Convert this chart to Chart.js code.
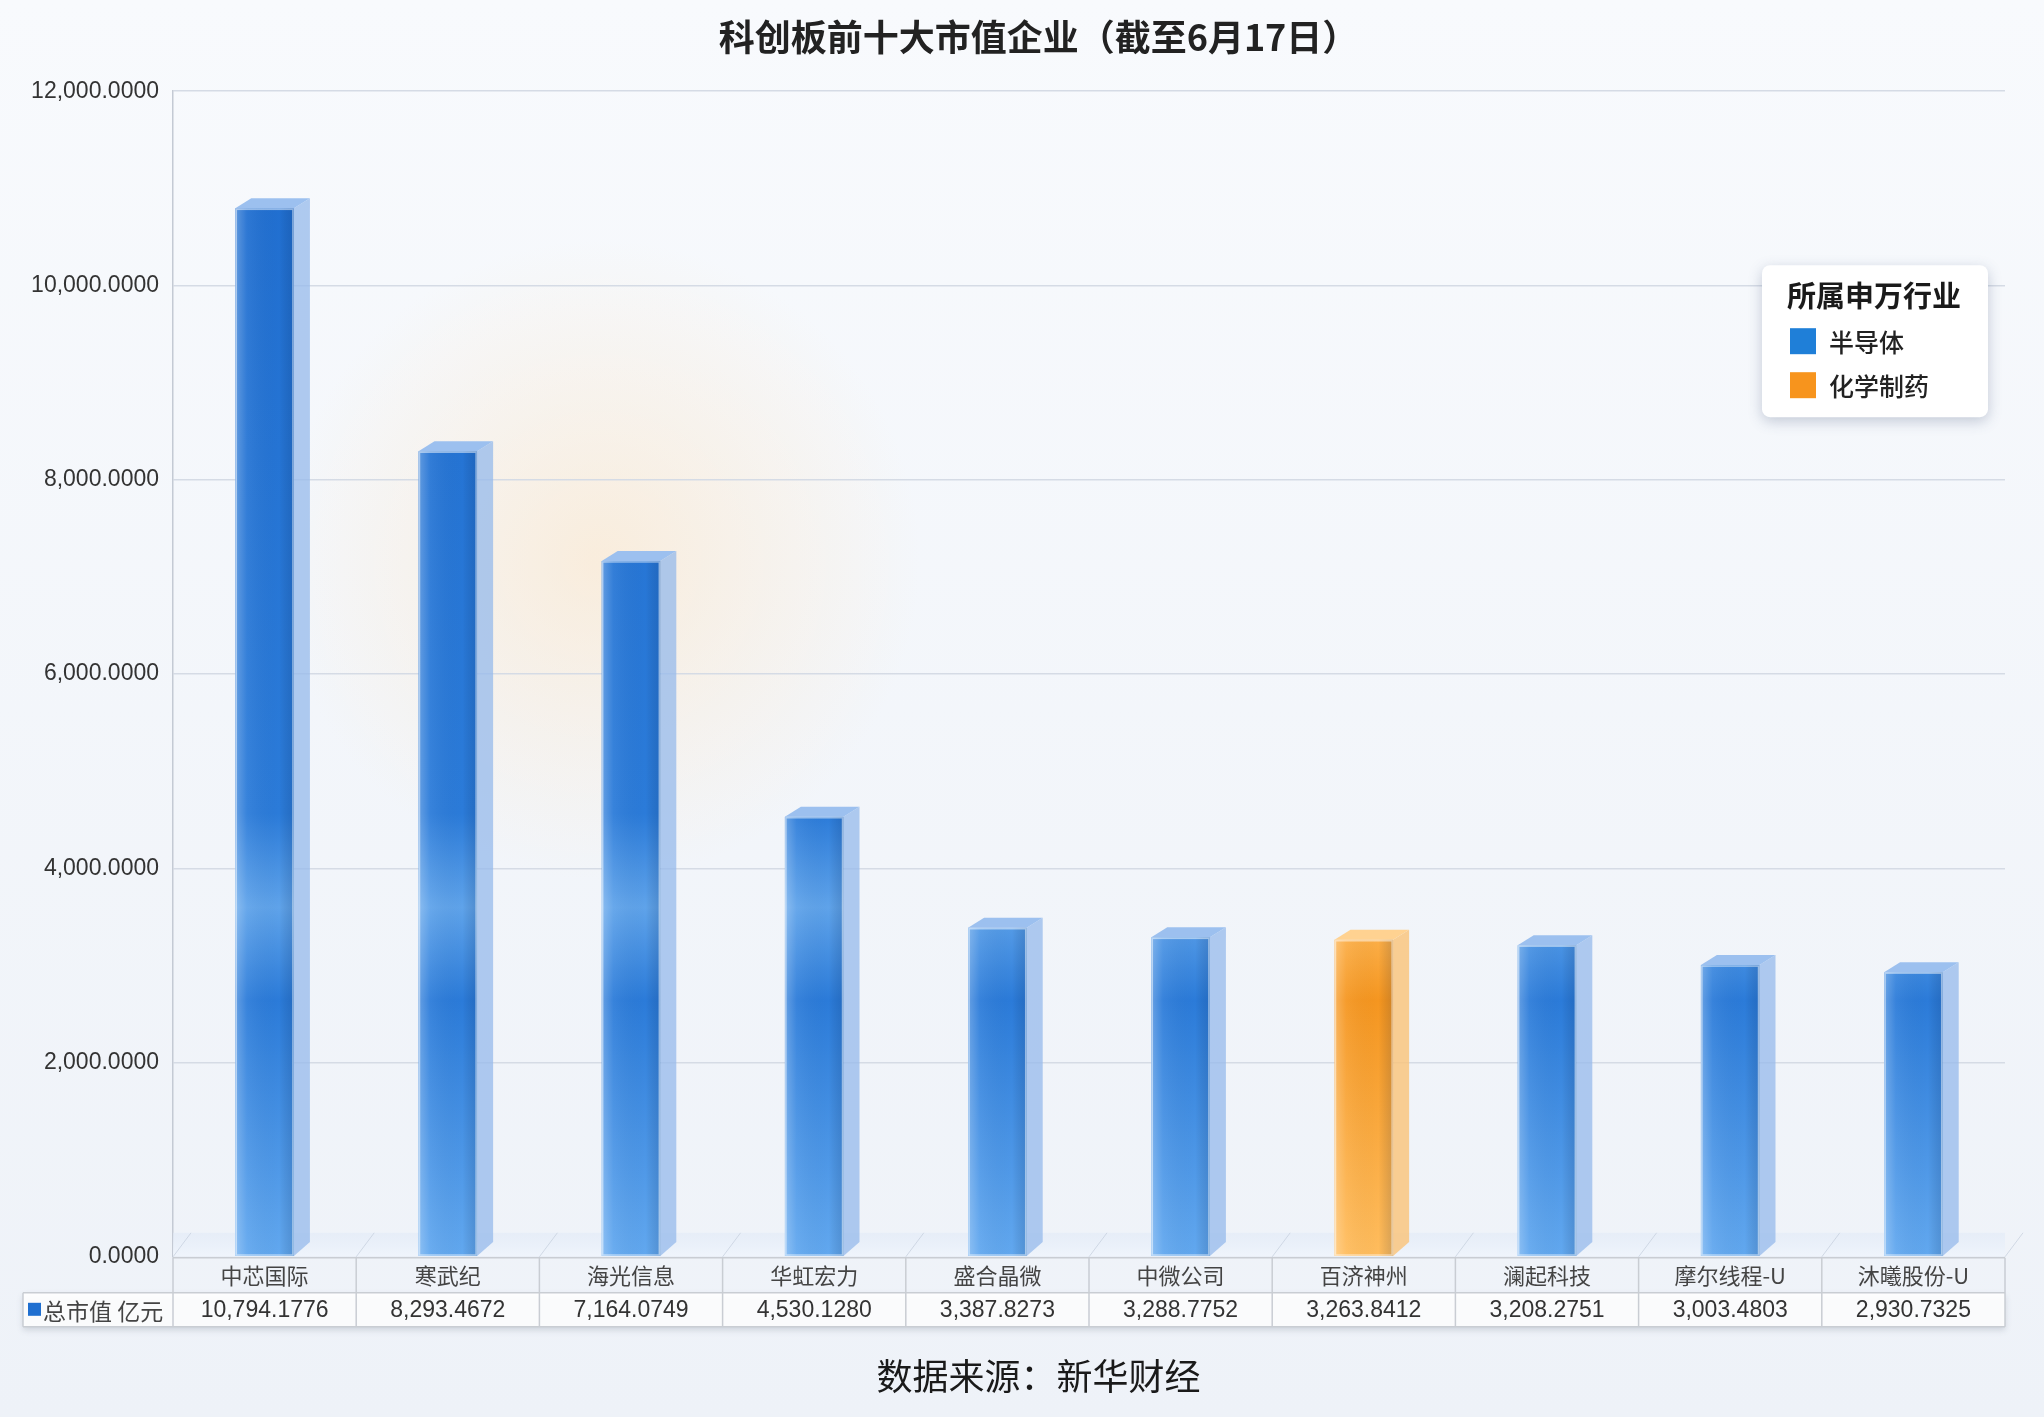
<!DOCTYPE html>
<html>
<head>
<meta charset="utf-8">
<script src="https://cdn.jsdelivr.net/npm/chart.js@4.4.1/dist/chart.umd.min.js"></script>
<style>
  html, body { margin: 0; padding: 0; background: #f5f8fc; }
  #wrap { width: 2044px; height: 1417px; }
</style>
</head>
<body>
<div id="wrap"><canvas id="grafico" width="2044" height="1417"></canvas></div>
<script>
const empresas = ["中芯国际", "寒武纪", "海光信息", "华虹宏力", "盛合晶微", "中微公司", "百济神州", "澜起科技", "摩尔线程-U", "沐曦股份-U"];
const totalMercado = [10794.1776, 8293.4672, 7164.0749, 4530.1280, 3387.8273, 3288.7752, 3263.8412, 3208.2751, 3003.4803, 2930.7325];
const setores = ["半导体", "半导体", "半导体", "半导体", "半导体", "半导体", "化学制药", "半导体", "半导体", "半导体"];
const nomesSetores = ["半导体", "化学制药"];
const eixoMax = 12000;
const eixoPasso = 2000;

const titulo = "\u3000\u3000科创板前十大市值企业（截至6月17日）";
const fonte = "\u3000\u3000数据来源：新华财经";
const tituloLegenda = "所属申万行业";
const rotuloSerie = "总市值 亿元";

const cjk = "'Noto Sans CJK SC', 'Noto Sans', sans-serif";
const num = "'Liberation Sans', Arial, sans-serif";

const cores = {
  "半导体": { topo: "#1f6dcf", meio: "#2b7bd9", faixa: "#5fa3ea", base: "#62a8ef", lado: "rgba(150,185,235,0.75)", tampa: "#9cc0ef", legenda: "#1f7fd8" },
  "化学制药": { topo: "#f1870e", meio: "#f59620", faixa: "#ffbb5c", base: "#ffbd5e", lado: "rgba(250,195,120,0.8)", tampa: "#ffd291", legenda: "#f7941d" }
};

function fmt(v) {
  return v.toLocaleString("en-US", { minimumFractionDigits: 4, maximumFractionDigits: 4 });
}

const fundo = {
  id: "fundo",
  beforeDraw(chart) {
    const { ctx, width, height, chartArea } = chart;
    ctx.save();
    let g = ctx.createLinearGradient(0, 0, 0, height);
    g.addColorStop(0, "#f8fafd");
    g.addColorStop(1, "#eef2f8");
    ctx.fillStyle = g;
    ctx.fillRect(0, 0, width, height);
    // brilho quente suave
    let r = ctx.createRadialGradient(600, 560, 10, 600, 560, 320);
    r.addColorStop(0, "rgba(255,225,185,0.45)");
    r.addColorStop(1, "rgba(255,225,185,0)");
    ctx.fillStyle = r;
    ctx.fillRect(chartArea.left, chartArea.top, chartArea.right - chartArea.left, chartArea.bottom - chartArea.top);
    ctx.restore();
  },
  beforeDatasetsDraw(chart) {
    // piso
    const { ctx, chartArea } = chart;
    const x = chart.scales.x;
    const n = empresas.length;
    const col = (x.right - x.left) / n;
    ctx.save();
    let g = ctx.createLinearGradient(0, chartArea.bottom - 24, 0, chartArea.bottom);
    g.addColorStop(0, "rgba(225,234,247,0.6)");
    g.addColorStop(1, "rgba(240,245,252,0.95)");
    ctx.fillStyle = g;
    ctx.fillRect(chartArea.left, chartArea.bottom - 24, chartArea.right - chartArea.left, 24);
    ctx.strokeStyle = "rgba(195,205,220,0.7)";
    ctx.lineWidth = 1;
    for (let i = 0; i <= n; i++) {
      const px = x.left + i * col;
      ctx.beginPath();
      ctx.moveTo(px + 18, chartArea.bottom - 24);
      ctx.lineTo(px, chartArea.bottom);
      ctx.stroke();
    }
    ctx.restore();
  }
};

const barra3d = {
  id: "barra3d",
  afterDatasetsDraw(chart) {
    const { ctx } = chart;
    const meta = chart.getDatasetMeta(0);
    const d = 16, dy = 10;
    meta.data.forEach((el, i) => {
      const { x, y, base, width } = el.getProps(["x", "y", "base", "width"], true);
      const l = x - width / 2, rt = x + width / 2;
      const c = cores[setores[i]];
      ctx.save();
      // lado
      ctx.fillStyle = c.lado;
      ctx.beginPath();
      ctx.moveTo(rt, y);
      ctx.lineTo(rt + d, y - dy);
      ctx.lineTo(rt + d, base - dy - 4);
      ctx.lineTo(rt, base);
      ctx.closePath();
      ctx.fill();
      // tampa
      ctx.fillStyle = c.tampa;
      ctx.beginPath();
      ctx.moveTo(l, y);
      ctx.lineTo(l + d, y - dy);
      ctx.lineTo(rt + d, y - dy);
      ctx.lineTo(rt, y);
      ctx.closePath();
      ctx.fill();
      // brilho na face
      let h = ctx.createLinearGradient(l, 0, rt, 0);
      h.addColorStop(0, "rgba(255,255,255,0.28)");
      h.addColorStop(0.2, "rgba(255,255,255,0.06)");
      h.addColorStop(0.75, "rgba(0,0,0,0)");
      h.addColorStop(1, "rgba(0,30,80,0.16)");
      ctx.fillStyle = h;
      ctx.fillRect(l, y, width, base - y);
      ctx.strokeStyle = "rgba(255,255,255,0.5)";
      ctx.lineWidth = 1.5;
      ctx.strokeRect(l + 1, y + 1, width - 2, base - y - 2);
      ctx.restore();
    });
  }
};

const tabela = {
  id: "tabela",
  afterDraw(chart) {
    const { ctx, chartArea } = chart;
    const x = chart.scales.x;
    const n = empresas.length;
    const col = (x.right - x.left) / n;
    const y0 = chartArea.bottom + 1, y1 = y0 + 35, y2 = y1 + 34;
    const esq = 23;
    ctx.save();
    ctx.shadowColor = "rgba(90,100,120,0.25)";
    ctx.shadowBlur = 6;
    ctx.shadowOffsetY = 3;
    ctx.fillStyle = "rgba(255,255,255,0.9)";
    ctx.fillRect(esq, y1, x.right - esq, y2 - y1);
    ctx.restore();
    ctx.save();
    ctx.strokeStyle = "#c9cdd3";
    ctx.lineWidth = 1.5;
    ctx.beginPath();
    ctx.moveTo(x.left, y0); ctx.lineTo(x.right, y0);
    ctx.moveTo(esq, y1); ctx.lineTo(x.right, y1);
    ctx.moveTo(esq, y2); ctx.lineTo(x.right, y2);
    ctx.moveTo(esq, y1); ctx.lineTo(esq, y2);
    for (let i = 0; i <= n; i++) {
      const px = x.left + i * col;
      ctx.moveTo(px, y0); ctx.lineTo(px, y2);
    }
    ctx.stroke();
    ctx.fillStyle = "#333";
    ctx.font = "23px " + num;
    ctx.textAlign = "center";
    ctx.textBaseline = "middle";
    totalMercado.forEach((v, i) => {
      ctx.fillText(fmt(v), x.getPixelForValue(i), (y1 + y2) / 2 + 1);
    });
    ctx.fillStyle = "#1f6fd0";
    ctx.fillRect(esq + 5, (y1 + y2) / 2 - 7, 13, 13);
    ctx.fillStyle = "#444";
    ctx.font = "23px " + cjk;
    ctx.textAlign = "left";
    ctx.fillText(rotuloSerie, esq + 20, (y1 + y2) / 2 + 1);
    ctx.restore();
  }
};

const legenda = {
  id: "legenda",
  afterDraw(chart) {
    const { ctx, chartArea } = chart;
    const bx = chartArea.right - 243, by = chartArea.top + 174, bw = 226, bh = 152;
    ctx.save();
    ctx.shadowColor = "rgba(60,80,120,0.28)";
    ctx.shadowBlur = 14;
    ctx.shadowOffsetY = 4;
    ctx.fillStyle = "#ffffff";
    ctx.beginPath();
    ctx.roundRect(bx, by, bw, bh, 8);
    ctx.fill();
    ctx.restore();
    ctx.save();
    ctx.textBaseline = "middle";
    ctx.textAlign = "left";
    ctx.fillStyle = "#1a1a1a";
    ctx.font = "bold 29px " + cjk;
    ctx.fillText(tituloLegenda, bx + 25, by + 31);
    nomesSetores.forEach((s, i) => {
      const cy = by + 76 + i * 44;
      ctx.fillStyle = cores[s].legenda;
      ctx.fillRect(bx + 28, cy - 13, 26, 26);
      ctx.fillStyle = "#222";
      ctx.font = "500 25px " + cjk;
      ctx.fillText(s, bx + 67, cy + 1);
    });
    ctx.restore();
  }
};

function corBarra(context) {
  const chart = context.chart;
  const area = chart.chartArea;
  const c = cores[setores[context.dataIndex]];
  if (!area) return c.topo;
  const g = chart.ctx.createLinearGradient(0, area.top, 0, area.bottom);
  g.addColorStop(0, c.topo);
  g.addColorStop(0.62, c.meio);
  g.addColorStop(0.7, c.faixa);
  g.addColorStop(0.78, c.meio);
  g.addColorStop(1, c.base);
  return g;
}

new Chart(document.getElementById("grafico"), {
  type: "bar",
  data: {
    labels: empresas,
    datasets: [{
      label: rotuloSerie,
      data: totalMercado,
      backgroundColor: corBarra,
      borderWidth: 0,
      barPercentage: 0.32,
      categoryPercentage: 1
    }]
  },
  options: {
    responsive: false,
    devicePixelRatio: 1,
    animation: false,
    layout: { padding: { left: 0, right: 39, top: 0, bottom: 0 } },
    plugins: {
      legend: { display: false },
      tooltip: { enabled: false },
      title: {
        display: true,
        text: titulo,
        color: "#222",
        font: { family: cjk, size: 36, weight: "bold" },
        padding: { top: 16, bottom: 32 }
      },
      subtitle: {
        display: true,
        position: "bottom",
        text: fonte,
        color: "#1a1a1a",
        font: { family: cjk, size: 36, weight: "normal" },
        padding: { top: 28, bottom: 19 }
      }
    },
    scales: {
      x: {
        offset: true,
        grid: { display: false, drawTicks: false },
        border: { display: false },
        ticks: { color: "#444", font: { family: cjk, size: 22 }, padding: 6, maxRotation: 0, autoSkip: false },
        afterFit(scale) { scale.height = 70; }
      },
      y: {
        min: 0,
        max: eixoMax,
        grid: { color: "#d5dbe5", lineWidth: 1.5, drawTicks: false },
        border: { display: true, color: "#c4cad4", width: 1.5 },
        ticks: {
          stepSize: eixoPasso,
          color: "#333",
          font: { family: num, size: 23 },
          padding: 14,
          callback: v => fmt(v)
        },
        afterFit(scale) { scale.width = 173; }
      }
    }
  },
  plugins: [fundo, barra3d, tabela, legenda]
});
</script>
</body>
</html>
